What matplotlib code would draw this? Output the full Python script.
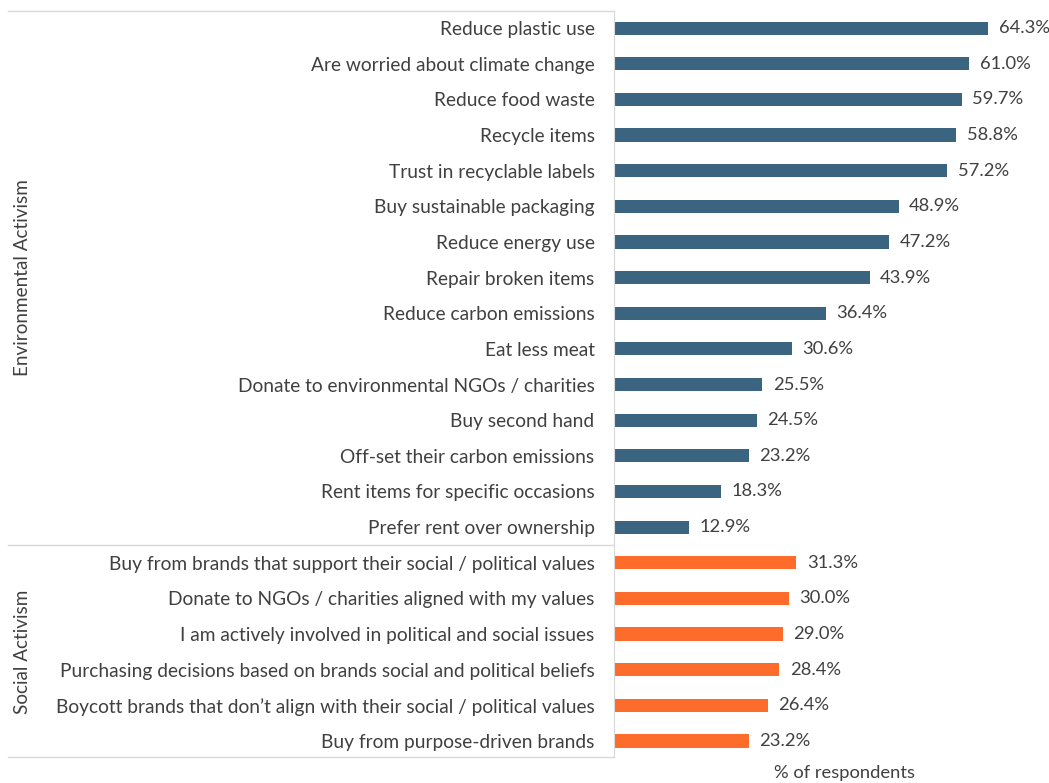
import matplotlib.pyplot as plt
from matplotlib.transforms import blended_transform_factory

plt.rcParams['font.family'] = ['Lato', 'DejaVu Sans']

env_labels = [
    'Reduce plastic use', 'Are worried about climate change',
    'Reduce food waste', 'Recycle items', 'Trust in recyclable labels',
    'Buy sustainable packaging', 'Reduce energy use', 'Repair broken items',
    'Reduce carbon emissions', 'Eat less meat',
    'Donate to environmental NGOs / charities', 'Buy second hand',
    'Off-set their carbon emissions', 'Rent items for specific occasions',
    'Prefer rent over ownership',
]
env_values = [64.3, 61.0, 59.7, 58.8, 57.2, 48.9, 47.2, 43.9, 36.4, 30.6,
              25.5, 24.5, 23.2, 18.3, 12.9]

soc_labels = [
    'Buy from brands that support their social / political values',
    'Donate to NGOs / charities aligned with my values',
    'I am actively involved in political and social issues',
    'Purchasing decisions based on brands social and political beliefs',
    'Boycott brands that don\u2019t align with their social / political values',
    'Buy from purpose-driven brands',
]
soc_values = [31.3, 30.0, 29.0, 28.4, 26.4, 23.2]

blue = '#3a6480'
orange = '#fd6c2b'
grey_txt = '#404040'
line_c = '#d9d9d9'

labels = env_labels + soc_labels
values = env_values + soc_values
colors = [blue] * len(env_values) + [orange] * len(soc_values)
ypos = list(range(len(labels)))

fig = plt.figure(figsize=(10.49, 7.83), dpi=100)
ax = fig.add_axes([614 / 1049, 1 - 757 / 783, 435 / 1049, 746 / 783])

ax.barh(ypos, values, height=0.37, color=colors)
for y, v in zip(ypos, values):
    ax.text(v + 1.8, y, '{:.1f}%'.format(v), va='center', ha='left',
            fontsize=13.2, color=grey_txt)

ax.set_xlim(0, 74.7)
ax.set_ylim(20.45, -0.48)
ax.set_yticks(ypos)
ax.set_yticklabels(labels, fontsize=13.8, color=grey_txt)
ax.tick_params(axis='y', length=0, pad=14)
ax.set_xticks([])
for s in ['top', 'right', 'bottom']:
    ax.spines[s].set_visible(False)
ax.spines['left'].set_color(line_c)

# group separators on the left side
tr = blended_transform_factory(ax.transAxes, ax.transData)
x0 = (8 - 614) / 435
for yy in [-0.48, 14.5, 20.45]:
    ax.plot([x0, 0], [yy, yy], color=line_c, lw=1, transform=tr,
            clip_on=False)

ax.text((23 - 614) / 435, 7, 'Environmental Activism', rotation=90,
        ha='center', va='center', fontsize=13.6, color=grey_txt, transform=tr)
ax.text((23 - 614) / 435, 17.5, 'Social Activism', rotation=90,
        ha='center', va='center', fontsize=13.6, color=grey_txt, transform=tr)

fig.text(845 / 1049, 1 - 773 / 783, '% of respondents', ha='center',
         va='center', fontsize=13.2, color=grey_txt)

fig.savefig('out.png', dpi=100)
